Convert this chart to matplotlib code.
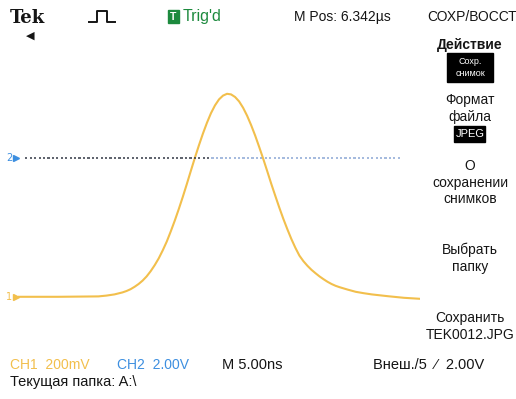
from matplotlib import pyplot as plt
from matplotlib import collections as mc
from matplotlib.lines import Line2D
from matplotlib.patches import Rectangle
import numpy as np

# Config
W, H = 516, 399
ORANGE = '#f2bf4c'
BLUE = '#3d8fe0'
GREEN = '#1d8a3e'
INK = '#151515'
FONT = ['Liberation Sans', 'DejaVu Sans']

# CH1 trace, time in ns (10 div x 5 ns), volts in mV (200 mV/div)
ch1_t = [0, 5, 10, 11, 11.5, 12, 12.5, 13, 13.5, 14, 14.5, 15, 15.5, 16,
         16.5, 17, 17.5, 18, 18.5, 19, 19.5, 20, 20.5, 21, 21.5, 22, 22.5,
         23, 23.5, 24, 24.5, 25, 25.5, 26, 26.5, 27, 27.5, 28, 28.5, 29,
         29.5, 30, 30.5, 31, 31.5, 32, 32.5, 33, 33.5, 34, 34.5, 35, 35.5,
         36, 36.5, 37, 37.5, 38, 38.5, 39, 39.5, 40, 40.5, 41, 42, 43, 44,
         46, 48, 50]
ch1_mv = [0, 0, 2, 6, 9, 12, 17, 22, 29, 38, 50, 64, 81, 102,
          128, 158, 192, 232, 276, 327, 381, 439, 500, 564, 630, 695, 757,
          816, 870, 918, 957, 987, 1006, 1015, 1012, 999, 977, 945, 905, 858,
          806, 749, 690, 628, 565, 505, 446, 390, 338, 289, 245, 206, 178,
          155, 135, 118, 102, 88, 75, 64, 55, 48, 42, 36, 25, 18, 12,
          3, -5, -10]
# CH2 trace (2.00 V/div), flat
ch2_t = [0.9, 5, 10, 15, 20, 25, 30, 35, 40, 44, 47.5]
ch2_v = [0, 0, 0, 0, 0, 0, 0, 0, 0, 0, 0]

# vertical positions in divisions
CH1_POS = -2.67
CH2_POS = 0.8
CH1_SCALE = 200.0   # mV/div
CH2_SCALE = 2.0     # V/div
T_SCALE = 5.0       # ns/div

fig = plt.figure(figsize=(W / 100, H / 100), dpi=100)
fig.patch.set_facecolor('white')


def px(x, y):
    return x / W, 1 - y / H


def txt(x, y, s, size=10, color=INK, ha='left', weight='normal', **kw):
    fig.text(*px(x, y), s, fontsize=size, color=color, ha=ha, va='center',
             family=FONT, weight=weight, **kw)


# screen area: 10 x 8 divisions
ax = fig.add_axes([18 / W, (H - 350) / H, 402 / W, 320 / H])
ax.set_xlim(0, 10)
ax.set_ylim(-4, 4)
ax.axis('off')

t1 = np.array(ch1_t) / T_SCALE
y1 = np.array(ch1_mv) / CH1_SCALE + CH1_POS
ax.plot(t1, y1, color=ORANGE, lw=1.5, solid_capstyle='round',
        solid_joinstyle='round')

t2 = np.array(ch2_t) / T_SCALE
y2 = np.array(ch2_v) / CH2_SCALE + CH2_POS
# dotted CH2 line, dark on the left, faint blue on the right
tt = np.linspace(t2[0], t2[-1], 170)
yy = np.interp(tt, t2, y2)
segs = [[(tt[i], yy[i]), (tt[i + 1], yy[i + 1])] for i in range(0, len(tt) - 1, 2)]
frac = np.linspace(0, 1, len(segs))
cols = [(0.2, 0.22, 0.27, 0.85) if f < 0.5 else (0.45, 0.58, 0.80, 0.7) for f in frac]
ax.add_collection(mc.LineCollection(segs, colors=cols, linewidths=1.3))

# channel ground markers
ax.plot([-0.05], [CH1_POS], marker='>', color=ORANGE, ms=4, clip_on=False)
ax.text(-0.22, CH1_POS, '1', color=ORANGE, fontsize=7, ha='center', va='center')
ax.plot([-0.05], [CH2_POS], marker='>', color=BLUE, ms=5, clip_on=False)
ax.text(-0.22, CH2_POS, '2', color=BLUE, fontsize=7, ha='center', va='center')

# top status bar
fig.text(*px(10, 18), 'Tek', fontsize=13, weight='bold', family='DejaVu Serif',
         va='center', ha='left', color=INK)
fig.text(*px(30, 36), '◀', fontsize=8, va='center', ha='center', color=INK)
fig.add_artist(Line2D([89 / W, 97 / W, 97 / W, 107 / W, 107 / W, 115 / W],
                      [1 - 22 / H, 1 - 22 / H, 1 - 11 / H, 1 - 11 / H, 1 - 22 / H, 1 - 22 / H],
                      color=INK, lw=1.4))
fig.add_artist(Rectangle(px(168, 23), 11 / W, 13 / H, color=GREEN))
txt(173.5, 16.5, 'T', size=7.5, color='white', ha='center', weight='bold')
txt(183, 16, "Trig'd", size=11.5, color=GREEN)
txt(294, 17, 'M Pos: 6.342\u00b5s', size=10)
txt(427, 17, 'СОХР/ВОССТ', size=10)

# side menu
MX = 470
txt(MX, 45, 'Действие', size=10, ha='center', weight='bold')
fig.add_artist(Rectangle(px(447, 82), 46 / W, 29 / H, color='black'))
txt(MX, 61, 'Сохр.', size=6.5, color='white', ha='center')
txt(MX, 74, 'снимок', size=6.5, color='white', ha='center')
txt(MX, 100, 'Формат', size=10, ha='center')
txt(MX, 117, 'файла', size=10, ha='center')
fig.add_artist(Rectangle(px(454, 142), 31 / W, 16 / H, color='black'))
txt(MX, 134, 'JPEG', size=8, color='white', ha='center')
txt(MX, 166, 'О', size=10, ha='center')
txt(MX, 183, 'сохранении', size=10, ha='center')
txt(MX, 199, 'снимков', size=10, ha='center')
txt(MX, 250, 'Выбрать', size=10, ha='center')
txt(MX, 267, 'папку', size=10, ha='center')
txt(MX, 318, 'Сохранить', size=10, ha='center')
txt(MX, 335, 'TEK0012.JPG', size=10, ha='center')

# bottom status bar
txt(10, 365, 'CH1  200mV', size=10, color=ORANGE)
txt(117, 365, 'CH2  2.00V', size=10, color=BLUE)
txt(222, 365, 'M 5.00ns', size=10.5)
txt(373, 365, 'Внеш./5  ⁄  2.00V', size=10.5)
txt(10, 382, 'Текущая папка: A:\\', size=10.5)

fig.savefig('out.png', dpi=100, facecolor='white')
